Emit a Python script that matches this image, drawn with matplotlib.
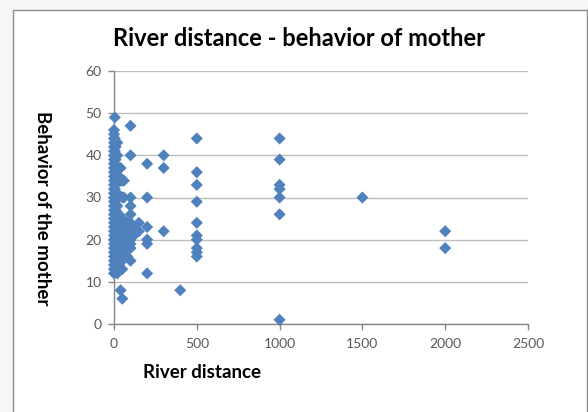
import numpy as np
import matplotlib
matplotlib.use("Agg")
import matplotlib.pyplot as plt
from matplotlib.patches import Rectangle

# river distance -> behavior of the mother
DIST_0 = [12, 13, 14, 15, 16, 17, 18, 19, 20, 21, 22, 23, 24, 25, 26, 27, 28, 29,
          30, 31, 32, 33, 34, 35, 36, 37, 38, 39, 40, 41, 42, 43, 44, 45, 46]
DIST_5 = [14, 17, 20, 23, 26, 29, 32, 35, 38, 41, 44, 49]
DIST_10 = [13, 15, 18, 21, 24, 27, 30, 33, 36, 39, 42]
DIST_20 = [12, 16, 19, 22, 25, 28, 31, 34, 37, 40, 43]
DIST_30 = [14, 17, 20, 23, 26, 35]
DIST_40 = [8, 13, 16, 19, 22, 24, 34, 37]
DIST_50 = [6, 13, 15, 18, 21, 25, 30, 34]
DIST_60 = [17, 20, 23, 30, 34]
DIST_70 = [19, 22]
DIST_80 = [16, 21, 24]
DIST_100 = [15, 18, 19, 20, 22, 24, 26, 28, 30, 40, 47]
DIST_120 = [21, 23]
DIST_150 = [22, 24]
DIST_200 = [12, 19, 20, 23, 30, 38]
DIST_300 = [22, 37, 40]
DIST_400 = [8]
DIST_500 = [16, 17, 18, 20, 21, 24, 29, 33, 36, 44]
DIST_1000 = [1, 26, 30, 32, 33, 39, 44]
DIST_1500 = [30]
DIST_2000 = [18, 22]

GROUPS = {
    0: DIST_0, 5: DIST_5, 10: DIST_10, 20: DIST_20, 30: DIST_30,
    40: DIST_40, 50: DIST_50, 60: DIST_60, 70: DIST_70, 80: DIST_80,
    100: DIST_100, 120: DIST_120, 150: DIST_150, 200: DIST_200, 300: DIST_300,
    400: DIST_400, 500: DIST_500, 1000: DIST_1000, 1500: DIST_1500,
    2000: DIST_2000,
}

X_TICKS = [0, 500, 1000, 1500, 2000, 2500]
Y_TICKS = [0, 10, 20, 30, 40, 50, 60]

FONT = ["Lato", "DejaVu Sans"]
BLUE = "#4F81BD"
GRAY_TXT = "#595959"
GRAY_LINE = "#868686"


def main():
    x = []
    y = []
    for d, vals in GROUPS.items():
        for v in vals:
            x.append(d)
            y.append(v)

    plt.rcParams["font.family"] = FONT
    fig = plt.figure(figsize=(5.88, 4.12), dpi=100, facecolor="#f6f6f6")
    # chart frame like the excel chart area
    fig.patches.append(Rectangle((13 / 588, -0.01), 574 / 588, 1 - 10 / 412 + 0.01,
                                 transform=fig.transFigure, facecolor="white",
                                 edgecolor="#8c8c8c", linewidth=1.0, zorder=-10))

    ax = fig.add_axes([114 / 588, 88 / 412, 414 / 588, 253 / 412])
    ax.set_facecolor("none")
    ax.scatter(x, y, marker="D", s=38, color=BLUE, edgecolors="none",
               zorder=3, clip_on=False)

    ax.set_xlim(0, 2500)
    ax.set_ylim(0, 60)
    ax.set_xticks(X_TICKS)
    ax.set_yticks(Y_TICKS)
    ax.grid(True, axis="y", color="#bdbdbd", linewidth=1.0)
    ax.set_axisbelow(True)
    for side in ["top", "right"]:
        ax.spines[side].set_visible(False)
    for side in ["left", "bottom"]:
        ax.spines[side].set_color(GRAY_LINE)
        ax.spines[side].set_linewidth(1.0)
    ax.tick_params(axis="both", colors=GRAY_LINE, labelcolor=GRAY_TXT,
                   labelsize=10, length=4, width=1.0)
    ax.tick_params(axis="y", pad=5)
    ax.tick_params(axis="x", pad=6)

    fig.text(299 / 588, 1 - 38 / 412, "River distance - behavior of mother",
             ha="center", va="center", fontsize=17, fontweight="bold",
             color="black")
    fig.text(42 / 588, 1 - 208 / 412, "Behavior of the mother", rotation=-90,
             ha="center", va="center", fontsize=13.5, fontweight="bold",
             color="black")
    fig.text(143 / 588, 1 - 372 / 412, "River distance", ha="left",
             va="center", fontsize=13.5, fontweight="bold", color="black")

    fig.savefig("out.png", dpi=100, facecolor=fig.get_facecolor())


if __name__ == "__main__":
    main()
